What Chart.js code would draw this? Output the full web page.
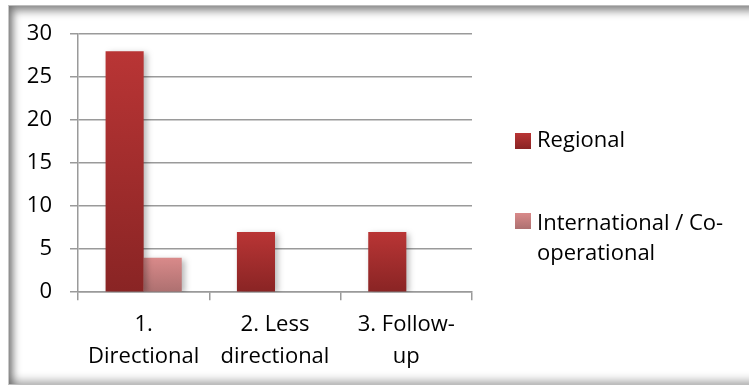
<!DOCTYPE html>
<html>
<head>
<meta charset="utf-8">
<script src="https://cdn.jsdelivr.net/npm/chart.js@4"></script>
<style>
  html, body { margin: 0; padding: 0; background: #fff; overflow: hidden; }
  #frame {
    position: absolute; left: 8px; top: 5px; width: 760px; height: 378px;
    border-left: 1px solid #c8c8c8; border-top: 1px solid #bdbdbd; border-bottom: 1px solid #bdbdbd;
    box-shadow: inset 4px 5px 9px rgba(0,0,0,0.45), inset 0 -4px 8px rgba(0,0,0,0.28);
  }
  #wrap { position: absolute; left: 0; top: 0; width: 749px; height: 386px; }
</style>
</head>
<body>
<div id="frame"></div>
<div id="wrap"><canvas id="chart" width="749" height="386"></canvas></div>
<script>
// Datos del gráfico
const categorias = [['1.', 'Directional'], ['2. Less', 'directional'], ['3. Follow-', 'up']];
const regional = [28, 7, 7];
const internacional = [4, 0, 0];
const etiquetaRegional = 'Regional';
const etiquetaInternacional = ['International / Co-', 'operational'];
const ticksY = [0, 5, 10, 15, 20, 25, 30];

const fuente = '"Open Sans", Lato, sans-serif';

// Degradado vertical por barra (claro arriba, oscuro abajo)
function degradado(arriba, abajo) {
  return function (ctx) {
    const chart = ctx.chart;
    const y = chart.scales && chart.scales.y;
    if (!chart.chartArea || !y || ctx.raw == null) return abajo;
    const top = y.getPixelForValue(ctx.raw);
    const bottom = y.getPixelForValue(0);
    if (bottom - top < 1) return abajo;
    const g = chart.ctx.createLinearGradient(0, top, 0, bottom);
    g.addColorStop(0, arriba);
    g.addColorStop(1, abajo);
    return g;
  };
}

const colores = [
  { arriba: '#b93535', abajo: '#892424' },
  { arriba: '#d98a8a', abajo: '#ad7070' }
];

// Sombra suave detrás de las barras
const sombraBarras = {
  id: 'sombraBarras',
  beforeDatasetsDraw(chart) {
    const c = chart.ctx;
    c.save();
    c.shadowColor = 'rgba(0,0,0,0.28)';
    c.shadowBlur = 6;
    c.shadowOffsetX = 3;
    c.shadowOffsetY = 2;
  },
  afterDatasetsDraw(chart) {
    chart.ctx.restore();
  }
};

// Leyenda a la derecha, con texto en varias líneas
const leyenda = {
  id: 'leyenda',
  afterDraw(chart) {
    const c = chart.ctx;
    const cuadros = [141, 221];
    const bases = [147, 230];
    c.save();
    c.font = '22px ' + fuente;
    c.textBaseline = 'alphabetic';
    chart.data.datasets.forEach((ds, i) => {
      const yc = cuadros[i];
      const g = c.createLinearGradient(0, yc - 8, 0, yc + 8);
      g.addColorStop(0, colores[i].arriba);
      g.addColorStop(1, colores[i].abajo);
      c.fillStyle = g;
      c.fillRect(515, yc - 8, 16, 16);
      c.fillStyle = '#000';
      const lineas = Array.isArray(ds.label) ? ds.label : [ds.label];
      lineas.forEach((t, j) => c.fillText(t, 537, bases[i] + j * 30));
    });
    c.restore();
  }
};

new Chart(document.getElementById('chart'), {
  type: 'bar',
  data: {
    labels: categorias,
    datasets: [
      {
        label: etiquetaRegional,
        data: regional,
        backgroundColor: degradado(colores[0].arriba, colores[0].abajo),
        categoryPercentage: 0.58,
        barPercentage: 1
      },
      {
        label: etiquetaInternacional,
        data: internacional,
        backgroundColor: degradado(colores[1].arriba, colores[1].abajo),
        categoryPercentage: 0.58,
        barPercentage: 1
      }
    ]
  },
  options: {
    responsive: false,
    animation: false,
    layout: { padding: { top: 34, right: 277, bottom: 4, left: 0 } },
    plugins: {
      legend: { display: false },
      tooltip: { enabled: false }
    },
    scales: {
      x: {
        grid: {
          offset: true,
          drawOnChartArea: false,
          drawTicks: true,
          tickLength: 8,
          color: '#9a9a9a',
          lineWidth: 1.5
        },
        border: { display: true, color: '#9a9a9a', width: 1.5 },
        ticks: {
          color: '#000',
          padding: 9,
          maxRotation: 0,
          autoSkip: false,
          font: { family: fuente, size: 22, lineHeight: 1.45 }
        }
      },
      y: {
        min: 0,
        max: 30,
        afterFit(scale) { scale.width = 78; },
        afterBuildTicks(scale) { scale.ticks = ticksY.map(v => ({ value: v })); },
        grid: { color: '#9a9a9a', lineWidth: 1.5, tickLength: 8 },
        border: { display: true, color: '#9a9a9a', width: 1.5 },
        ticks: {
          color: '#000',
          padding: 18,
          font: { family: fuente, size: 22 }
        }
      }
    }
  },
  plugins: [sombraBarras, leyenda]
});
</script>
</body>
</html>
